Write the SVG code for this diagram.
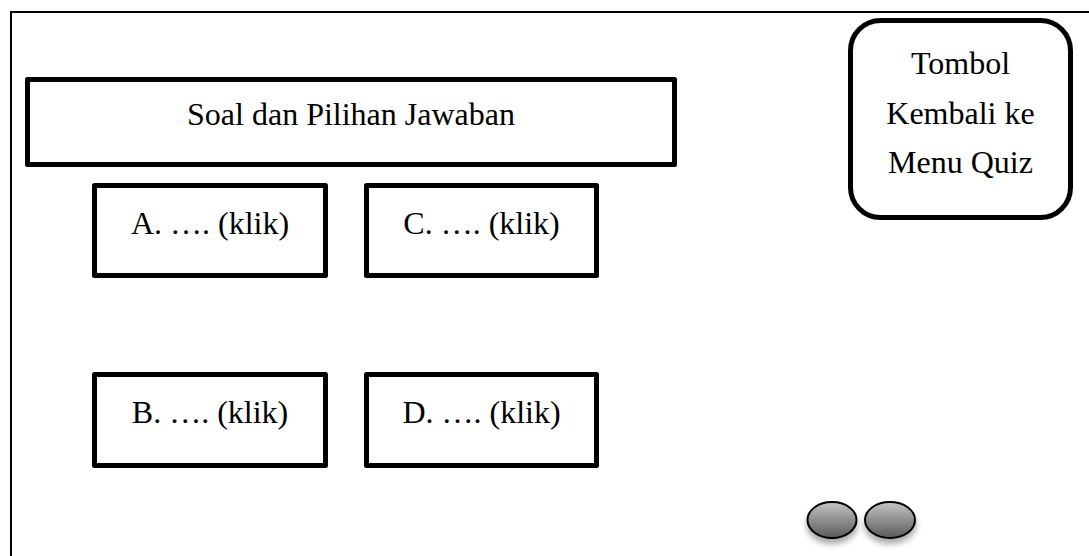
<svg xmlns="http://www.w3.org/2000/svg" width="1089" height="556" viewBox="0 0 1089 556">
<defs>
<style>
.box{fill:#fff;stroke:#000;stroke-width:5;stroke-linejoin:round}
.t{font-family:"Liberation Serif","Times New Roman",serif;font-size:32px;fill:#000;text-anchor:middle}
.frame{fill:none;stroke:#000;stroke-width:2}
</style>
<linearGradient id="g" x1="0" y1="0" x2="0" y2="1">
<stop offset="0" stop-color="#c4c4c4"/>
<stop offset="1" stop-color="#5a5a5a"/>
</linearGradient>
<filter id="sh" x="-30%" y="-30%" width="160%" height="180%">
<feGaussianBlur in="SourceAlpha" stdDeviation="3"/>
<feOffset dy="5"/>
<feComponentTransfer><feFuncA type="linear" slope="0.35"/></feComponentTransfer>
<feMerge><feMergeNode/><feMergeNode in="SourceGraphic"/></feMerge>
</filter>
</defs>
<rect width="1089" height="556" fill="#fff"/>
<path class="frame" d="M11 556 V12 H1089"/>
<g id="soal">
<rect class="box" x="27.5" y="79.5" width="647" height="85"/>
<text class="t" x="351" y="125">Soal dan Pilihan Jawaban</text>
</g>
<g id="tombol">
<rect class="box" x="850.5" y="20.5" width="220" height="197" rx="30" ry="30"/>
<text class="t" x="960.5" y="74">Tombol</text>
<text class="t" x="960.5" y="124">Kembali ke</text>
<text class="t" x="960.5" y="173">Menu Quiz</text>
</g>
<g id="a">
<rect class="box" x="94.5" y="185.5" width="231" height="90"/>
<text class="t" x="210" y="234">A. …. (klik)</text>
</g>
<g id="c">
<rect class="box" x="366.5" y="185.5" width="230" height="90"/>
<text class="t" x="481.5" y="234">C. …. (klik)</text>
</g>
<g id="b">
<rect class="box" x="94.5" y="374.5" width="231" height="91"/>
<text class="t" x="210" y="423">B. …. (klik)</text>
</g>
<g id="d">
<rect class="box" x="366.5" y="374.5" width="230" height="91"/>
<text class="t" x="481.5" y="423">D. …. (klik)</text>
</g>
<g id="nav1" filter="url(#sh)">
<ellipse cx="832" cy="520" rx="24.5" ry="18" fill="url(#g)" stroke="#000" stroke-width="2"/>
</g>
<g id="nav2" filter="url(#sh)">
<ellipse cx="890" cy="520" rx="25" ry="18" fill="url(#g)" stroke="#000" stroke-width="2"/>
</g>
<g id="connectors"/>
</svg>
